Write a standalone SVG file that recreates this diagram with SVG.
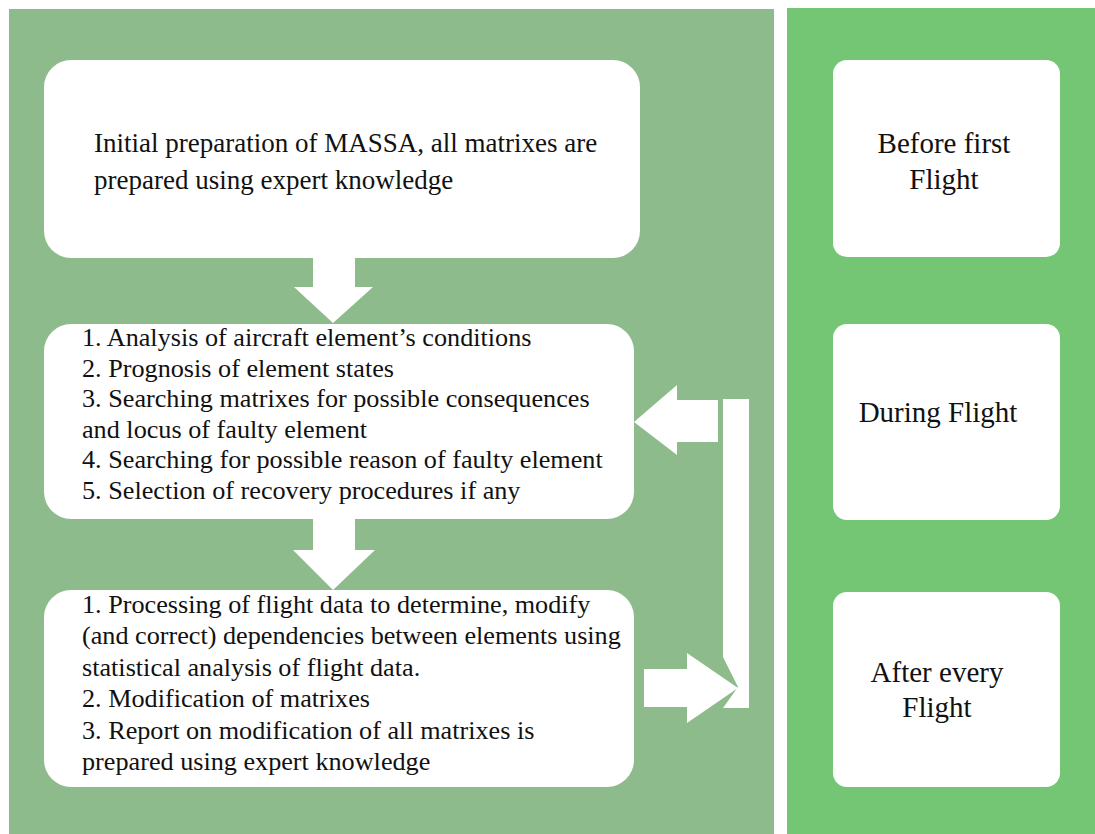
<svg xmlns="http://www.w3.org/2000/svg" width="1095" height="834" viewBox="0 0 1095 834">
  <style>
    .panel-a { fill: #8dbb8b; }
    .panel-b { fill: #74c674; }
    .box { fill: #ffffff; }
    .arrow { fill: #ffffff; }
    .t { font-size: 26.2px; fill: #111111; }
    .t1 { font-size: 27px; fill: #111111; }
    .lbl { font-size: 29px; fill: #111111; text-anchor: middle; }
  </style>

  <rect width="1095" height="834" fill="#ffffff"/>

  <!-- background panels -->
  <rect id="panel-process" class="panel-a" x="9" y="9" width="765" height="825"/>
  <rect id="panel-phase" class="panel-b" x="787" y="8" width="308" height="826"/>

  <g font-family="Liberation Serif, Tinos, Times New Roman, DejaVu Serif, serif">
    <!-- process steps -->
    <g id="step-initial">
      <rect class="box" x="44" y="60" width="596" height="198" rx="27"/>
      <text class="t1" x="94" y="152">Initial preparation of MASSA, all matrixes are</text>
      <text class="t1" x="94" y="189">prepared using expert knowledge</text>
    </g>

    <g id="step-inflight">
      <rect class="box" x="44" y="324" width="590" height="195" rx="27"/>
      <text class="t" x="82" y="346">1. Analysis of aircraft element’s conditions</text>
      <text class="t" x="82" y="377">2. Prognosis of element states</text>
      <text class="t" x="82" y="407">3. Searching matrixes for possible consequences</text>
      <text class="t" x="82" y="438">and locus of faulty element</text>
      <text class="t" x="82" y="468">4. Searching for possible reason of faulty element</text>
      <text class="t" x="82" y="499">5. Selection of recovery procedures if any</text>
    </g>

    <g id="step-postflight">
      <rect class="box" x="44" y="590" width="590" height="197" rx="27"/>
      <text class="t" x="82" y="613">1. Processing of flight data to determine, modify</text>
      <text class="t" x="82" y="644">(and correct) dependencies between elements using</text>
      <text class="t" x="82" y="676">statistical analysis of flight data.</text>
      <text class="t" x="82" y="707">2. Modification of matrixes</text>
      <text class="t" x="82" y="739">3. Report on modification of all matrixes is</text>
      <text class="t" x="82" y="770">prepared using expert knowledge</text>
    </g>

    <!-- phase labels -->
    <g id="phase-before">
      <rect class="box" x="833" y="60" width="227" height="197" rx="14"/>
      <text class="lbl" x="944" y="153">Before first</text>
      <text class="lbl" x="944" y="189">Flight</text>
    </g>

    <g id="phase-during">
      <rect class="box" x="833" y="324" width="227" height="196" rx="14"/>
      <text class="lbl" x="938" y="422">During Flight</text>
    </g>

    <g id="phase-after">
      <rect class="box" x="833" y="592" width="227" height="195" rx="14"/>
      <text class="lbl" x="937" y="682">After every</text>
      <text class="lbl" x="937" y="717">Flight</text>
    </g>
  </g>

  <!-- connectors -->
  <g id="connectors">
    <polygon class="arrow" points="313,257 355,257 355,287 373,287 333,323 294,287 313,287"/>
    <polygon class="arrow" points="313,518 355,518 355,550 375,550 333,590 293,550 313,550"/>
    <polygon class="arrow" points="723,399 749,399 749,708 723,708 738,687 723,657"/>
    <polygon class="arrow" points="718,400 677,400 677,385 634,422 677,455 677,442 718,442"/>
    <polygon class="arrow" points="644,669 687,669 687,653 738,688 687,723 687,707 644,707"/>
  </g>
</svg>
